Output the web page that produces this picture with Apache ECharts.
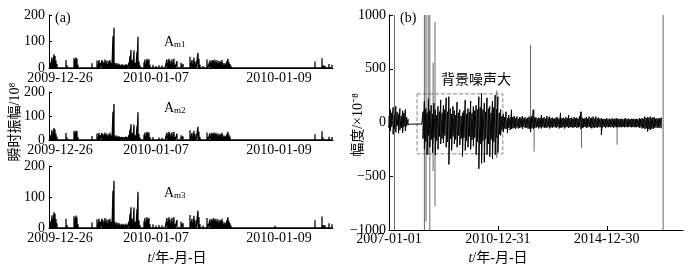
<!DOCTYPE html>
<html><head><meta charset="utf-8">
<script src="https://cdn.jsdelivr.net/npm/echarts@6/dist/echarts.min.js"></script>
<style>html,body{margin:0;padding:0;background:#fff}#c{width:694px;height:272px}</style>
</head><body><div id="c"></div>
<script>
const FONT = "'Liberation Serif','Times New Roman',serif";
const CJK = "'Liberation Serif','Noto Sans CJK SC',serif";

// ---- panel (a): sample index and instantaneous amplitudes (1e-8) ----
const aTickIdx = [11, 107, 230];
const aTickLabels = ['2009-12-26', '2010-01-07', '2010-01-09'];
const ampIdx = [
  1,2,3,4,5,6,7,8,9,12,
  17,18,25,26,27,28,29,35,43,44,
  48,49,50,51,53,54,55,56,57,58,
  59,60,61,62,63,64,65,66,67,68,
  69,70,71,72,73,74,75,76,77,78,
  79,80,81,82,83,84,85,86,87,88,
  89,90,91,93,95,96,97,98,99,100,
  101,104,107,110,113,116,118,119,120,121,
  122,123,124,125,126,128,130,132,134,137,
  141,142,143,144,145,146,147,149,150,151,
  154,158,159,161,162,163,164,165,166,167,
  168,169,170,171,172,173,174,175,176,177,
  178,179,180,181,182,183,190,200,215,226,
  233,245,266,267,273,274,276,280,282,283];
const am1 = [
  8,22,40,30,52,45,28,15,6,4,
  30,10,38,30,40,35,12,4,18,6,
  28,12,30,20,30,25,18,32,22,28,
  15,26,30,20,14,120,152,20,14,18,
  10,16,12,8,14,10,12,8,14,10,
  6,20,45,68,30,15,66,20,10,60,
  118,25,10,5,22,32,18,35,28,33,
  12,12,8,10,9,4,32,20,35,28,
  15,33,20,35,12,26,6,20,15,4,
  42,20,30,15,39,25,10,57,35,12,
  8,32,12,28,20,30,26,32,24,30,
  22,28,18,26,22,30,20,12,18,10,
  26,35,22,15,8,5,3,2,2,7,
  4,2,25,6,37,10,8,15,6,12];
const am2 = [
  8,20,42,28,50,44,26,14,6,4,
  29,10,37,30,39,36,12,4,17,6,
  27,12,30,21,29,25,18,31,22,27,
  15,25,30,20,14,118,150,20,14,18,
  10,16,12,8,13,10,12,8,14,10,
  6,20,44,66,30,15,64,20,10,58,
  116,25,10,5,22,31,18,34,28,32,
  12,12,8,10,9,4,31,20,34,28,
  15,32,20,34,12,26,6,20,15,4,
  41,20,30,15,38,25,10,55,34,12,
  8,31,12,28,20,30,26,31,24,30,
  22,27,18,26,22,30,20,12,18,10,
  26,34,22,15,8,5,3,2,2,7,
  4,2,24,6,36,10,8,14,6,12];
const am3 = [
  8,22,41,30,51,46,28,15,6,4,
  30,10,38,31,40,35,12,4,18,6,
  28,12,30,20,30,25,18,32,22,28,
  15,26,30,20,14,120,152,20,14,18,
  10,16,12,8,14,10,12,8,14,10,
  6,20,45,67,30,15,66,20,10,60,
  117,25,10,5,22,32,18,35,28,33,
  12,12,8,10,9,4,32,20,35,28,
  15,33,20,35,12,26,6,20,15,4,
  42,20,30,15,39,25,10,56,35,12,
  8,32,12,28,20,30,26,32,24,30,
  22,28,18,26,22,30,20,12,18,10,
  26,35,22,15,8,5,3,2,2,7,
  4,2,25,6,37,10,8,15,6,12];

// ---- panel (b): years since 2007-01-01, sampled every 0.05 yr ----
const bTickYears = [0, 4, 8];
const bTickLabels = ['2007-01-01', '2010-12-31', '2014-12-30'];
const tStep = 0.05;
const upB = [
  60,120,90,140,70,150,100,80,130,60,110,90,120,50,30,
  -15,-15,-15,-15,-15,-15,-15,-15,-15,-15,
  100,200,130,90,220,110,160,80,180,120,
  70,150,100,210,90,160,120,230,100,240,
  130,80,150,110,70,190,90,120,60,90,
  110,210,80,130,100,200,90,150,110,160,
  120,240,140,270,120,180,100,230,130,150,
  90,200,140,255,120,240,90,
  120,60,80,50,100,40,70,45,118,50,
  60,40,55,35,50,45,60,40,50,35,
  45,55,40,60,118,45,50,35,45,40,
  70,40,50,35,60,45,55,40,45,35,
  40,50,45,35,90,40,45,35,50,40,
  70,40,45,35,50,40,45,35,60,100,
  45,35,40,50,35,55,40,45,55,35,
  55,40,45,35,40,30,35,30,40,30,
  35,30,40,30,35,40,30,35,30,35,
  30,35,40,30,35,30,35,30,35,30,
  35,30,40,35,40,35,55,40,50,45,
  55,40,50,45,35,40,35,40,45];
const loB = [
  -50,-80,-40,-110,-60,-90,-30,-100,-70,-50,-95,-40,-80,-30,-20,
  -15,-15,-15,-15,-15,-15,-15,-15,-15,-15,
  -150,-250,-180,-300,-120,-230,-160,-280,-140,-300,
  -170,-250,-130,-200,-150,-190,-120,-230,-180,-390,
  -150,-260,-130,-200,-160,-230,-120,-210,-150,-315,
  -140,-260,-170,-230,-130,-250,-160,-220,-140,-300,
  -180,-430,-200,-380,-170,-370,-150,-300,-200,-320,
  -160,-340,-180,-300,-140,-280,-110,
  -120,-70,-90,-55,-60,-95,-50,-70,-60,-55,
  -50,-60,-45,-55,-50,-45,-60,-40,-50,-45,
  -55,-60,-85,-50,-60,-45,-50,-40,-55,-45,
  -55,-40,-50,-45,-50,-40,-55,-45,-50,-40,
  -45,-50,-40,-55,-45,-50,-40,-55,-45,-40,
  -50,-45,-40,-50,-45,-40,-50,-45,-40,-60,
  -50,-45,-40,-50,-45,-40,-50,-55,-45,-50,
  -45,-50,-40,-45,-115,-45,-40,-50,-40,-45,
  -40,-45,-40,-50,-40,-45,-40,-45,-40,-45,
  -40,-45,-40,-45,-40,-40,-45,-40,-45,-40,
  -45,-40,-50,-45,-55,-50,-60,-55,-83,-60,
  -70,-55,-60,-50,-45,-50,-45,-50,-55];
const spikeT  = [0.2, 1.30, 1.36, 1.44, 1.50, 1.62, 1.69, 3.96, 5.2, 5.33, 7.07, 8.38, 10.07];
const spikeHi = [1100, 1100, 1100, 1100, 1100, 555, 938, 300, 720, 120, 100, 40, 1100];
const spikeLo = [-1100, -1100, -920, -300, -1100, -450, -780, -330, -90, -270, -235, -207, -1100];
const boxT = [1.03, 4.18];
const boxV = [266, -291];

// ---- build ----
const aLabelMap = {}; aTickIdx.forEach((v, i) => aLabelMap[v] = aTickLabels[i]);
const bLabelMap = {}; bTickYears.forEach((v, i) => bLabelMap[v] = bTickLabels[i]);
const noise = [];
upB.forEach((u, i) => { const t = +(i * tStep).toFixed(3); noise.push([t, u]); noise.push([t, loB[i]]); });
const spikePath = arr => { const d = []; ampIdx.forEach((t, k) => { d.push([t, 0], [t, arr[k]], [t, 0]); }); return d; };

const axisLine = { show: true, onZero: false, lineStyle: { color: '#000', width: 1 } };
const lblStyle = { color: '#000', fontSize: 14, fontFamily: FONT };

const grids = [
  { left: 49, top: 15, width: 284, height: 53 },
  { left: 49, top: 92, width: 284, height: 48 },
  { left: 49, top: 166, width: 284, height: 62 },
  { left: 389, top: 15, width: 294, height: 215 }
];
const xAxes = [0, 1, 2].map(i => ({
  type: 'value', gridIndex: i, min: 0, max: 284,
  axisLine, axisTick: { show: false }, splitLine: { show: false },
  axisLabel: Object.assign({ customValues: aTickIdx, margin: 3, formatter: v => aLabelMap[v] || '' }, lblStyle)
}));
xAxes.push({
  type: 'value', gridIndex: 3, min: 0, max: 10.8, interval: 4,
  axisLine, axisTick: { show: true, inside: true, length: 4, lineStyle: { color: '#000' } },
  splitLine: { show: false },
  axisLabel: Object.assign({ margin: 2, showMaxLabel: false, formatter: v => bLabelMap[v] || '' }, lblStyle)
});
const yAxes = [0, 1, 2].map(i => ({
  type: 'value', gridIndex: i, min: 0, max: 200, interval: 100,
  axisLine, axisTick: { show: true, inside: true, length: 3, lineStyle: { color: '#000' } },
  splitLine: { show: false },
  axisLabel: Object.assign({ margin: 4 }, lblStyle)
}));
yAxes.push({
  type: 'value', gridIndex: 3, min: -1000, max: 1000, interval: 500,
  axisLine, axisTick: { show: true, inside: true, length: 4, lineStyle: { color: '#000' } },
  splitLine: { show: false },
  axisLabel: Object.assign({ margin: 3, formatter: v => v < 0 ? '\u2212' + Math.abs(v) : String(v) }, lblStyle)
});

const ampSets = [am1, am2, am3];
const series = ampSets.map((arr, i) => ({
  type: 'line', xAxisIndex: i, yAxisIndex: i, symbol: 'none', silent: true,
  lineStyle: { color: '#000', width: 1.3 },
  data: spikePath(arr)
}));
series.push({
  type: 'bar', xAxisIndex: 3, yAxisIndex: 3, barWidth: 1, barGap: '-100%',
  itemStyle: { color: '#666' }, silent: true,
  data: spikeT.map((t, k) => [t, spikeHi[k]])
});
series.push({
  type: 'bar', xAxisIndex: 3, yAxisIndex: 3, barWidth: 1, barGap: '-100%',
  itemStyle: { color: '#666' }, silent: true,
  data: spikeT.map((t, k) => [t, spikeLo[k]])
});
series.push({
  type: 'line', xAxisIndex: 3, yAxisIndex: 3, symbol: 'none', silent: true,
  lineStyle: { color: '#000', width: 1 }, data: noise,
  markArea: {
    silent: true,
    itemStyle: { color: 'rgba(0,0,0,0)', borderColor: '#888', borderWidth: 1, borderType: 'dashed' },
    data: [[{ xAxis: boxT[0], yAxis: boxV[0] }, { xAxis: boxT[1], yAxis: boxV[1] }]]
  }
});

const txt = (x, y, text, extra) => ({
  type: 'text', x, y, silent: true,
  style: Object.assign({ text, fill: '#000', fontSize: 14, fontFamily: FONT, align: 'left', verticalAlign: 'middle' }, extra || {})
});
const graphic = [
  txt(55, 18, '(a)'),
  txt(400, 18, '(b)'),
  txt(164, 42, 'A'), txt(174, 45, 'm1', { fontSize: 9 }),
  txt(164, 108, 'A'), txt(174, 111, 'm2', { fontSize: 9 }),
  txt(164, 193, 'A'), txt(174, 196, 'm3', { fontSize: 9 }),
  txt(476, 80, '背景噪声大', { align: 'center', fontFamily: CJK }),
  Object.assign(txt(15, 122, '瞬时振幅/10⁸', { align: 'center', fontFamily: CJK }), { rotation: Math.PI / 2 }),
  Object.assign(txt(358, 125, '幅度/×10⁻⁸', { align: 'center', fontFamily: CJK }), { rotation: Math.PI / 2 }),
  txt(177, 258, '{i|t}/年-月-日', { align: 'center', fontFamily: CJK, rich: { i: { fontStyle: 'italic', fontSize: 14, fontFamily: FONT } } }),
  txt(498, 258, '{i|t}/年-月-日', { align: 'center', fontFamily: CJK, rich: { i: { fontStyle: 'italic', fontSize: 14, fontFamily: FONT } } })
];

const chart = echarts.init(document.getElementById('c'), null, { renderer: 'canvas' });
chart.setOption({
  animation: false, backgroundColor: '#fff',
  grid: grids, xAxis: xAxes, yAxis: yAxes, series, graphic
});
</script></body></html>
